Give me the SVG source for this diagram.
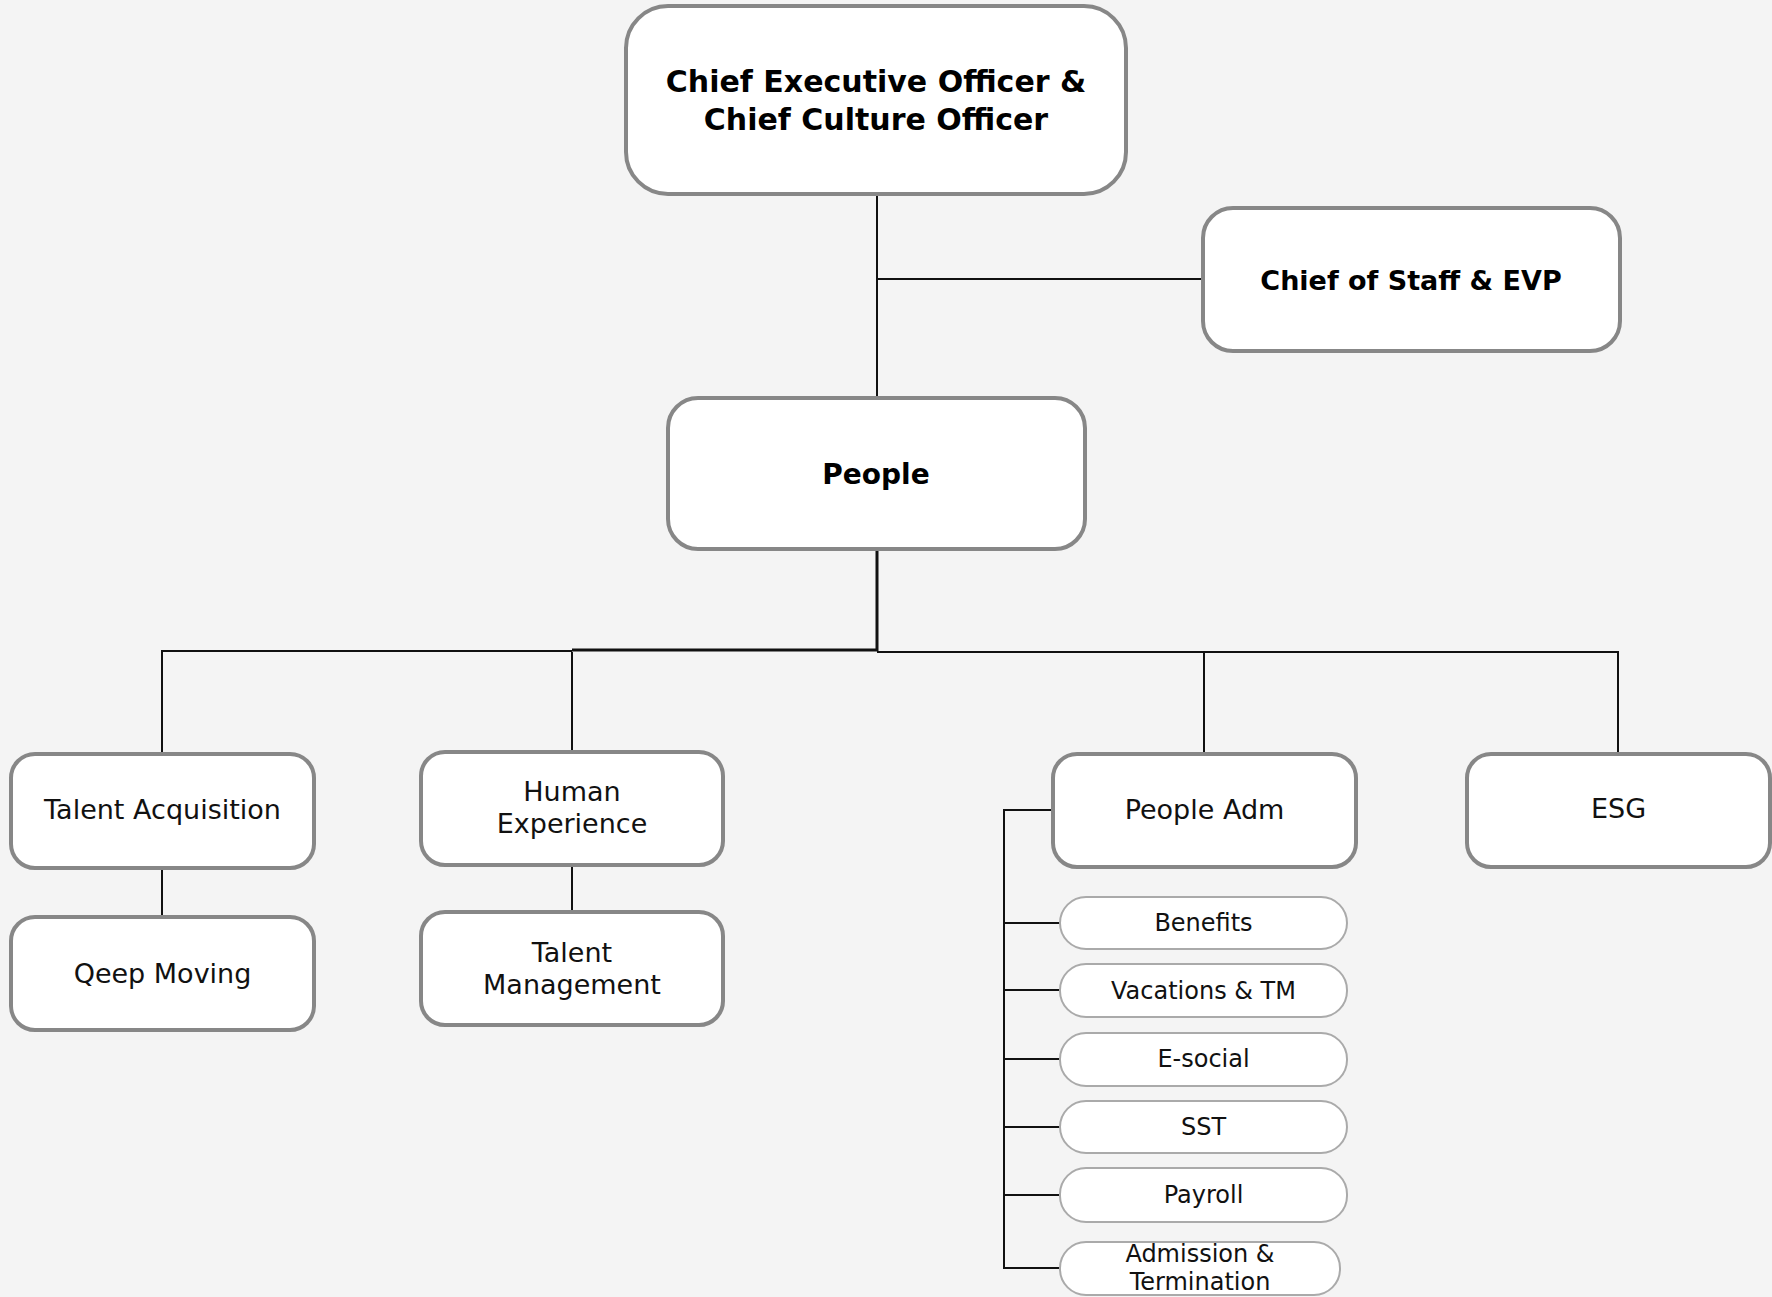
<svg xmlns="http://www.w3.org/2000/svg" width="1772" height="1297" viewBox="0 0 1772 1297">
<style>
.box{fill:#ffffff;stroke:#878787;stroke-width:4}
.pill{fill:#ffffff;stroke:#aaaaaa;stroke-width:2}
.b{font-family:"DejaVu Sans",sans-serif;font-weight:bold;fill:#000;text-anchor:middle}
.r{font-family:"DejaVu Sans",sans-serif;font-size:27px;fill:#111;text-anchor:middle}
.p{font-family:"DejaVu Sans",sans-serif;font-size:24px;fill:#111;text-anchor:middle}
.c{fill:none;stroke:#111;stroke-width:2}
</style>
<rect width="1772" height="1297" fill="#f4f4f4"/>
<g id="connectors">
<path class="c" d="M877 194V398M877 279H1203"/>
<path class="c" d="M877 549V651" style="stroke-width:3"/>
<path class="c" d="M162 754V651H572"/>
<path class="c" d="M572 650H877" style="stroke-width:3"/>
<path class="c" d="M572 652V752"/>
<path class="c" d="M877 652H1618V754M1204 652V754"/>
<path class="c" d="M162 868V917M572 864V912"/>
<path class="c" d="M1053 810H1004V1268H1060M1004 923H1060M1004 990H1060M1004 1059H1060M1004 1127H1060M1004 1195H1060"/>
</g>
<g id="ceo">
<rect class="box" x="626" y="6" width="500" height="188" rx="42"/>
<text class="b" x="876" y="92" font-size="30">Chief Executive Officer &amp;</text>
<text class="b" x="876" y="130" font-size="30">Chief Culture Officer</text>
</g>
<g id="chief-of-staff">
<rect class="box" x="1203" y="208" width="417" height="143" rx="30"/>
<text class="b" x="1411" y="290" font-size="27">Chief of Staff &amp; EVP</text>
</g>
<g id="people">
<rect class="box" x="668" y="398" width="417" height="151" rx="30"/>
<text class="b" x="876" y="484" font-size="28">People</text>
</g>
<g id="talent-acquisition">
<rect class="box" x="11" y="754" width="303" height="114" rx="24"/>
<text class="r" x="162.5" y="819">Talent Acquisition</text>
</g>
<g id="qeep-moving">
<rect class="box" x="11" y="917" width="303" height="113" rx="24"/>
<text class="r" x="162.5" y="983">Qeep Moving</text>
</g>
<g id="human-experience">
<rect class="box" x="421" y="752" width="302" height="113" rx="24"/>
<text class="r" x="572" y="801">Human</text>
<text class="r" x="572" y="833">Experience</text>
</g>
<g id="talent-management">
<rect class="box" x="421" y="912" width="302" height="113" rx="24"/>
<text class="r" x="572" y="962">Talent</text>
<text class="r" x="572" y="994">Management</text>
</g>
<g id="people-adm">
<rect class="box" x="1053" y="754" width="303" height="113" rx="24"/>
<text class="r" x="1204.5" y="819">People Adm</text>
</g>
<g id="esg">
<rect class="box" x="1467" y="754" width="303" height="113" rx="24"/>
<text class="r" x="1618.5" y="818">ESG</text>
</g>
<g id="benefits">
<rect class="pill" x="1060" y="897" width="287" height="52" rx="26"/>
<text class="p" x="1203.5" y="931">Benefits</text>
</g>
<g id="vacations">
<rect class="pill" x="1060" y="964" width="287" height="53" rx="26"/>
<text class="p" x="1203.5" y="999">Vacations &amp; TM</text>
</g>
<g id="e-social">
<rect class="pill" x="1060" y="1033" width="287" height="53" rx="26"/>
<text class="p" x="1203.5" y="1067">E-social</text>
</g>
<g id="sst">
<rect class="pill" x="1060" y="1101" width="287" height="52" rx="26"/>
<text class="p" x="1203.5" y="1135">SST</text>
</g>
<g id="payroll">
<rect class="pill" x="1060" y="1168" width="287" height="54" rx="26"/>
<text class="p" x="1203.5" y="1203">Payroll</text>
</g>
<g id="admission">
<rect class="pill" x="1060" y="1242" width="280" height="53" rx="26"/>
<text class="p" x="1200" y="1262">Admission &amp;</text>
<text class="p" x="1200" y="1290">Termination</text>
</g>
</svg>
